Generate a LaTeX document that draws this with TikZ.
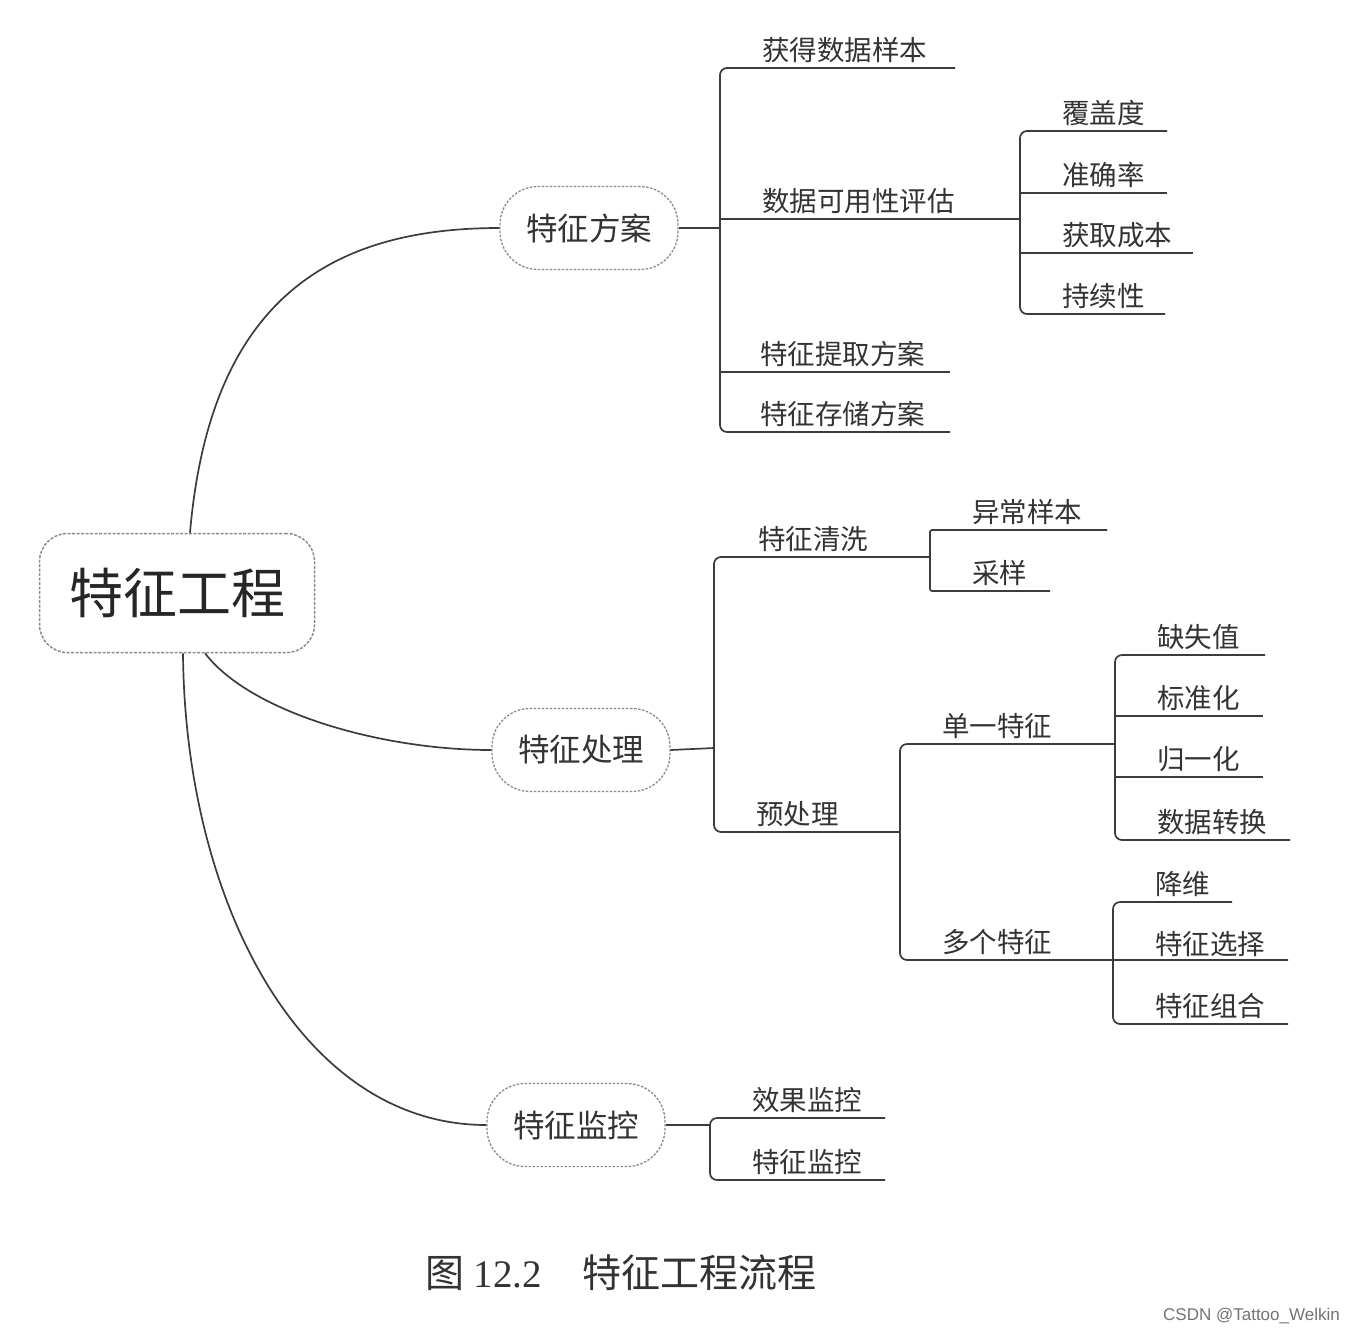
\documentclass[tikz,border=0pt]{standalone}
\usepackage{fontspec}
\setmainfont{Liberation Serif}
\newfontfamily\cjk{Noto Sans CJK SC}
\newfontfamily\wmfont{Liberation Sans}
\definecolor{linec}{HTML}{3C3C3C}
\definecolor{txtc}{HTML}{333333}
\definecolor{bordc}{HTML}{8C8C8C}
\begin{document}
\begin{tikzpicture}[x=1pt,y=-1pt,
  line/.style={draw=linec, line width=1.7pt},
  bracket/.style={line, rounded corners=7pt},
  sbracket/.style={line, rounded corners=2pt},
  lbl/.style={font=\cjk\fontsize{27.5}{31}\selectfont, text=txtc, anchor=south west, inner sep=0pt},
  topic/.style={draw=bordc, dash pattern=on 2.5pt off 1.5pt, line width=1.3pt, rounded corners=38pt,
    minimum width=178pt, minimum height=83pt, font=\cjk\fontsize{31.5}{34}\selectfont, text=txtc},
  rootbox/.style={draw=bordc, dash pattern=on 3pt off 1.5pt, line width=1.5pt, rounded corners=28pt,
    minimum width=275pt, minimum height=119pt, font=\cjk\fontsize{54}{58}\selectfont, text=black!85},
  curve/.style={draw=linec, line width=1.7pt}
]
\fill[white] (0,0) rectangle (1354,1334);
\useasboundingbox (0,0) rectangle (1354,1334);

% central and topic nodes
\node[rootbox] (root) at (177,593) {特征工程};
\node[topic] (fa) at (589,228) {特征方案};
\node[topic] (fb) at (581,750) {特征处理};
\node[topic] (fc) at (576,1125) {特征监控};

% curves from root
\draw[curve] ([xshift=13pt]root.north) .. controls (210,300) and (330,228) .. (fa.west);
\draw[curve] ([xshift=28pt]root.south) .. controls (250,712) and (380,750) .. (fb.west);
\draw[curve] ([xshift=6pt]root.south) .. controls (185,900) and (300,1125) .. (fc.west);

% ---------- 特征方案 ----------
\coordinate (ja) at (720,228);
\draw[line] (fa.east) -- (ja);
\draw[bracket] (955,68) -- (720,68) -- (720,432) -- (950,432);
\draw[line] (720,219) -- (1020,219);
\draw[line] (720,372) -- (950,372);
\node[lbl] (a1) at (762,63) {获得数据样本};
\node[lbl] (a2) at (762,214) {数据可用性评估};
\node[lbl] (a3) at (760,367) {特征提取方案};
\node[lbl] (a4) at (760,427) {特征存储方案};
\draw[bracket] (1167,131) -- (1020,131) -- (1020,314) -- (1165,314);
\draw[line] (1020,193) -- (1167,193);
\draw[line] (1020,253) -- (1193,253);
\node[lbl] (a21) at (1062,126) {覆盖度};
\node[lbl] (a22) at (1062,188) {准确率};
\node[lbl] (a23) at (1062,248) {获取成本};
\node[lbl] (a24) at (1062,309) {持续性};

% ---------- 特征处理 ----------
\coordinate (jb) at (714,748);
\draw[line] (fb.east) -- (jb);
\draw[bracket] (930,557) -- (714,557) -- (714,832) -- (900,832);
\node[lbl] (b1) at (758,552) {特征清洗};
\node[lbl] (b2) at (756,827) {预处理};
\draw[sbracket] (1107,530) -- (930,530) -- (930,591) -- (1050,591);
\node[lbl] (b11) at (972,525) {异常样本};
\node[lbl] (b12) at (972,586) {采样};
\draw[bracket] (1115,744) -- (900,744) -- (900,960) -- (1288,960);
\node[lbl] (b21) at (942,739) {单一特征};
\node[lbl] (b22) at (942,955) {多个特征};
\draw[bracket] (1265,655) -- (1115,655) -- (1115,840) -- (1290,840);
\draw[line] (1115,716) -- (1263,716);
\draw[line] (1115,777) -- (1263,777);
\node[lbl] (b211) at (1157,650) {缺失值};
\node[lbl] (b212) at (1157,711) {标准化};
\node[lbl] (b213) at (1157,772) {归一化};
\node[lbl] (b214) at (1157,835) {数据转换};
\draw[bracket] (1232,902) -- (1113,902) -- (1113,1024) -- (1288,1024);
\node[lbl] (b221) at (1155,897) {降维};
\node[lbl] (b222) at (1155,957) {特征选择};
\node[lbl] (b223) at (1155,1019) {特征组合};

% ---------- 特征监控 ----------
\coordinate (jc) at (710,1125);
\draw[line] (fc.east) -- (jc);
\draw[bracket] (885,1118) -- (710,1118) -- (710,1180) -- (885,1180);
\node[lbl] (c1) at (752,1113) {效果监控};
\node[lbl] (c2) at (752,1175) {特征监控};

% caption and watermark
\node[anchor=west, inner sep=0pt, text=txtc, font=\fontsize{39}{44}\selectfont] (cap) at (425,1273)
  {{\cjk 图} 12.2\hspace{40pt}{\cjk 特征工程流程}};
\node[anchor=east, inner sep=0pt, text=black!55, font=\wmfont\fontsize{17}{20}\selectfont] (wm) at (1340,1316)
  {CSDN @Tattoo\_Welkin};
\end{tikzpicture}
\end{document}
